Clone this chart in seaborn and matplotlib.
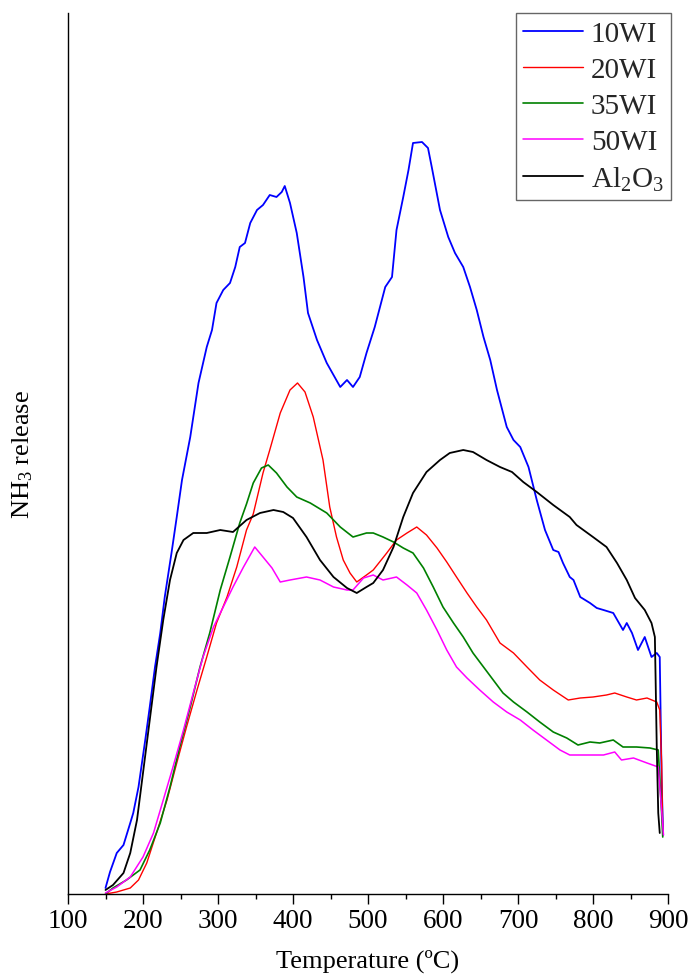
import numpy as np
import pandas as pd
import matplotlib
matplotlib.use("Agg")
import matplotlib.pyplot as plt
import seaborn as sns
from matplotlib.ticker import MultipleLocator

# ---------------- data (arbitrary NH3 units) ----------------
t_10wi = [150, 156, 165, 174, 183, 187, 194, 203, 209, 216, 223, 229, 238, 245, 252, 263, 274,
          285, 292, 298, 307, 316, 323, 329, 336, 343, 352, 360, 369, 378, 385, 389, 396, 405,
          414, 420, 432, 445, 463, 472, 480, 489, 498, 509, 523, 532, 538, 547, 554, 560, 572,
          580, 585, 596, 607, 616, 627, 636, 645, 654, 663, 672, 685, 694, 703, 714, 725, 736,
          747, 754, 760, 769, 774, 783, 796, 805, 814, 827, 840, 845, 852, 860, 869, 878, 885,
          889, 891.5, 893.5]
y_10wi = [6, 22, 41, 49, 71, 81, 107, 154, 187, 227, 261, 297, 341, 377, 414, 457, 511,
          547, 564, 591, 604, 611, 627, 647, 651, 671, 684, 689, 699, 697, 702, 708, 691, 661,
          617, 581, 554, 531, 507, 514, 507, 517, 541, 567, 607, 617, 664, 697, 724, 751, 752,
          746, 727, 684, 657, 641, 627, 607, 584, 557, 534, 504, 467, 454, 447, 427, 394, 364,
          344, 342, 331, 317, 314, 297, 291, 286, 284, 281, 264, 271, 261, 244, 257, 237, 241,
          237, 114, 59]

t_20wi = [150, 165, 183, 194, 205, 218, 232, 245, 258, 272, 285, 298, 312, 325, 338, 347, 360,
          369, 383, 396, 406, 416, 427, 440, 449, 458, 467, 476, 485, 498, 507, 525, 538, 552,
          565, 578, 592, 605, 618, 632, 645, 658, 676, 694, 712, 729, 747, 767, 783, 800, 818,
          829, 845, 858, 872, 885, 889, 891.5, 893]
y_20wi = [0, 2, 6, 14, 31, 61, 94, 131, 167, 204, 237, 271, 297, 327, 364, 380, 421,
          444, 481, 504, 511, 502, 477, 434, 387, 357, 334, 321, 312, 319, 324, 341, 354, 361,
          367, 359, 346, 332, 317, 301, 287, 274, 251, 241, 227, 214, 204, 194, 196, 197, 199,
          201, 197, 194, 196, 192, 184, 131, 61]

t_35wi = [150, 160, 178, 196, 209, 223, 236, 249, 263, 276, 289, 303, 316, 329, 338, 347, 358,
          367, 378, 392, 405, 423, 445, 463, 480, 498, 507, 520, 534, 547, 560, 574, 587, 600,
          614, 627, 640, 654, 667, 680, 694, 712, 729, 747, 765, 780, 796, 809, 827, 840, 858,
          876, 887, 891.5, 893]
y_35wi = [0, 6, 14, 24, 44, 71, 107, 147, 187, 227, 261, 304, 337, 371, 390, 411, 426,
          429, 421, 407, 397, 391, 381, 367, 357, 361, 361, 357, 352, 346, 341, 326, 307, 287,
          271, 257, 241, 227, 214, 201, 192, 182, 172, 162, 156, 149, 152, 151, 154, 147, 147,
          146, 144, 81, 57]

t_50wi = [150, 165, 183, 200, 214, 227, 240, 254, 267, 280, 294, 307, 320, 334, 349, 360, 372,
          383, 396, 418, 436, 454, 472, 480, 494, 507, 520, 538, 552, 565, 578, 592, 605, 618,
          632, 649, 667, 685, 703, 720, 738, 756, 769, 792, 814, 829, 838, 854, 872, 887,
          891.5, 894]
y_50wi = [1, 7, 17, 37, 61, 94, 127, 164, 201, 237, 267, 287, 307, 327, 347, 337, 326,
          312, 314, 317, 314, 307, 304, 304, 316, 319, 314, 317, 309, 301, 284, 264, 244, 227,
          216, 204, 192, 182, 174, 164, 154, 144, 139, 139, 139, 142, 134, 136, 131, 127,
          84, 59]

t_al2o3 = [150, 160, 174, 183, 192, 200, 209, 218, 227, 236, 245, 254, 267, 285, 303, 320, 338,
           356, 374, 387, 400, 418, 436, 454, 472, 485, 498, 507, 520, 534, 547, 560, 578, 596,
           609, 627, 640, 658, 676, 692, 707, 725, 747, 769, 778, 800, 818, 832, 845, 856, 869,
           878, 882.5, 883.5, 885, 887, 889]
y_al2o3 = [4, 9, 21, 41, 74, 121, 174, 227, 274, 314, 341, 354, 361, 361, 364, 362, 374,
           381, 384, 382, 376, 357, 334, 317, 306, 301, 307, 311, 324, 347, 377, 401, 422, 434,
           441, 444, 442, 434, 427, 422, 412, 402, 389, 377, 369, 357, 347, 331, 314, 296, 284,
           271, 257, 214, 147, 81, 61]

labels = ["10WI", "20WI", "35WI", "50WI", "Al$_2$O$_3$"]
colors = ["#0000FF", "#FF0000", "#008000", "#FF00FF", "#000000"]
x_ticks = [100, 200, 300, 400, 500, 600, 700, 800, 900]

# ---------------- style ----------------
sns.set_theme(style="ticks")
plt.rcParams['font.family'] = ['Liberation Serif', 'DejaVu Serif']
plt.rcParams['mathtext.fontset'] = 'custom'
plt.rcParams['mathtext.rm'] = 'Liberation Serif'
plt.rcParams['mathtext.default'] = 'regular'

fig = plt.figure(figsize=(6.89, 9.79), dpi=100)
ax = fig.add_axes([68 / 689, 84 / 979, 600 / 689, 881 / 979])

series = [(t_10wi, y_10wi), (t_20wi, y_20wi), (t_35wi, y_35wi), (t_50wi, y_50wi), (t_al2o3, y_al2o3)]
widths = [1.3, 1.0, 1.2, 1.1, 1.3]
for (t, y), lab, col, lw in zip(series, labels, colors, widths):
    df = pd.DataFrame({"T": t, "y": y})
    sns.lineplot(data=df, x="T", y="y", color=col, linewidth=lw, label=lab,
                 estimator=None, sort=False, ax=ax)

ax.set_xlim(100, 900)
ax.set_ylim(0, 881)
ax.set_xticks(x_ticks)
ax.xaxis.set_minor_locator(MultipleLocator(50))
ax.set_yticks([])
for s in ["top", "right"]:
    ax.spines[s].set_visible(False)
for s in ["left", "bottom"]:
    ax.spines[s].set_color("black")
    ax.spines[s].set_linewidth(1.0)
ax.tick_params(axis="x", which="major", direction="out", length=7, width=1,
               color="black", labelsize=19.5, pad=3, labelcolor="black")
ax.tick_params(axis="x", which="minor", direction="out", length=3.6, width=1, color="black")

ax.set_xlabel("Temperature (ºC)", fontsize=19, labelpad=11, color="black")
ax.set_ylabel("NH$_3$ release", fontsize=19, labelpad=24, color="black")

leg = ax.legend(loc="upper right", bbox_to_anchor=(671 / 689, 1 - 14 / 979),
                bbox_transform=fig.transFigure, borderaxespad=0, fontsize=21,
                handlelength=2.05, handletextpad=0.27, labelspacing=0.33, borderpad=0.25,
                fancybox=False, framealpha=1, edgecolor="#666666")
leg.get_frame().set_linewidth(1.0)

fig.savefig("out.png", dpi=100)
